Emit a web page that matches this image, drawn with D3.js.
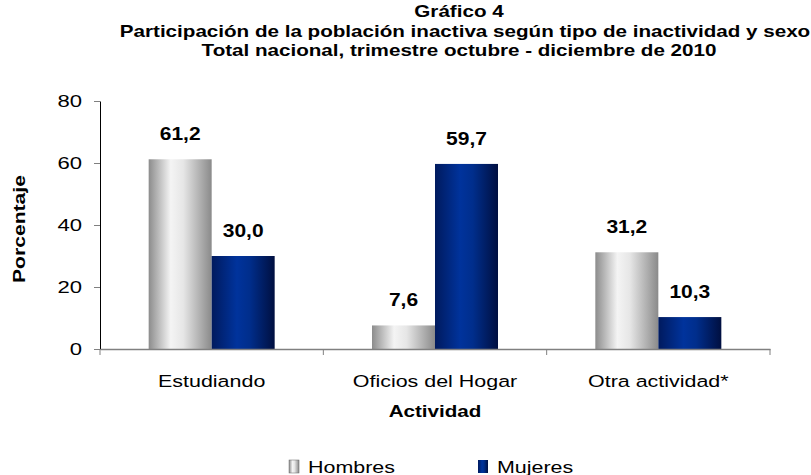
<!DOCTYPE html>
<html>
<head>
<meta charset="utf-8">
<script src="https://cdn.jsdelivr.net/npm/d3@7"></script>
<style>
  body { margin: 0; background: #fff; }
  text { font-family: 'Liberation Sans', Arial, sans-serif; }
</style>
</head>
<body>
<div id="chart"></div>
<script>
const categories = ['Estudiando', 'Oficios del Hogar', 'Otra actividad*'];
const series = ['Hombres', 'Mujeres'];
const hombres = [61.2, 7.6, 31.2];
const mujeres = [30.0, 59.7, 10.3];
const yTicks = [0, 20, 40, 60, 80];
const titleLines = [
  'Gráfico 4',
  'Participación de la población inactiva según tipo de inactividad y sexo',
  'Total nacional, trimestre octubre - diciembre de 2010'
];

const width = 811;
const height = 475;
const margin = { top: 101, right: 41, bottom: 126, left: 100 };
const innerW = width - margin.left - margin.right;
const innerH = height - margin.top - margin.bottom;
const SX = 1.3; // the original text is drawn wide

// move x/y into a transform so the glyphs can be widened
function stretch(sel, k) {
  sel.each(function () {
    const t = d3.select(this);
    const x = +t.attr('x') || 0;
    const y = +t.attr('y') || 0;
    const rot = t.attr('data-rot');
    t.attr('x', 0).attr('y', 0)
      .attr('transform', `translate(${x},${y})${rot ? ` rotate(${rot})` : ''} scale(${k || SX},1)`);
  });
}

const svg = d3.select('#chart').append('svg')
  .attr('width', width)
  .attr('height', height);

const defs = svg.append('defs');
const gradH = defs.append('linearGradient').attr('id', 'grad-h')
  .attr('x1', '0%').attr('x2', '100%').attr('y1', '0%').attr('y2', '0%');
[['0%', '#8c8c8c'], ['35%', '#f4f4f4'], ['55%', '#e6e6e6'], ['100%', '#8a8a8a']]
  .forEach(s => gradH.append('stop').attr('offset', s[0]).attr('stop-color', s[1]));
const gradM = defs.append('linearGradient').attr('id', 'grad-m')
  .attr('x1', '0%').attr('x2', '100%').attr('y1', '0%').attr('y2', '0%');
[['0%', '#001a5e'], ['40%', '#00339c'], ['60%', '#002e8c'], ['100%', '#000f40']]
  .forEach(s => gradM.append('stop').attr('offset', s[0]).attr('stop-color', s[1]));
const fills = ['url(#grad-h)', 'url(#grad-m)'];

// titles
svg.append('g').selectAll('text')
  .data(titleLines)
  .enter().append('text')
  .attr('x', (d, i) => i === 1 ? 465 : 459)
  .attr('y', (d, i) => 17 + i * 19.5)
  .attr('text-anchor', 'middle')
  .attr('font-size', 16.5)
  .attr('font-weight', 'bold')
  .text(d => d)
  .call(stretch, 1.25);

const g = svg.append('g')
  .attr('transform', `translate(${margin.left},${margin.top})`);

const x0 = d3.scaleBand().domain(categories).range([0, innerW]).padding(0);
const x1 = d3.scaleBand().domain(series).range([0, 126]);
const y = d3.scaleLinear().domain([0, 80]).range([innerH, 0]);

// y axis
const yAxis = g.append('g')
  .call(d3.axisLeft(y).tickValues(yTicks).tickSize(6).tickSizeOuter(0));
yAxis.select('.domain').attr('stroke', '#000');
yAxis.selectAll('.tick line').attr('stroke', '#808080');
yAxis.selectAll('.tick text')
  .attr('font-size', 17)
  .attr('font-family', "'Liberation Sans', Arial, sans-serif")
  .attr('fill', '#000')
  .attr('x', -18)
  .call(stretch);

// bars
const groups = g.selectAll('.grp')
  .data(categories)
  .enter().append('g')
  .attr('class', 'grp')
  .attr('transform', d => `translate(${x0(d) + x0.bandwidth() / 2 - 63},0)`);

const vals = [hombres, mujeres];
series.forEach((s, si) => {
  groups.append('rect')
    .attr('x', x1(s))
    .attr('width', x1.bandwidth())
    .attr('y', (d, i) => y(vals[si][i]))
    .attr('height', (d, i) => innerH - y(vals[si][i]))
    .attr('fill', fills[si]);
  groups.append('text')
    .attr('x', x1(s) + x1.bandwidth() / 2)
    .attr('y', (d, i) => y(vals[si][i]) - 19)
    .attr('text-anchor', 'middle')
    .attr('font-size', 17.5)
    .attr('font-weight', 'bold')
    .text((d, i) => vals[si][i].toFixed(1).replace('.', ','))
    .call(stretch, 1.2);
});

// x axis
const xAxis = g.append('g')
  .attr('transform', `translate(0,${innerH})`)
  .call(d3.axisBottom(x0).tickSize(0).tickSizeOuter(0));
xAxis.select('.domain').attr('stroke', '#808080').attr('stroke-width', 1.5);
xAxis.selectAll('.tick text')
  .attr('font-size', 16.5)
  .attr('font-family', "'Liberation Sans', Arial, sans-serif")
  .attr('fill', '#000')
  .attr('dy', 0)
  .attr('y', 38)
  .call(stretch);
g.append('g').selectAll('line')
  .data(categories.map((c, i) => i).concat([3]))
  .enter().append('line')
  .attr('x1', i => i * x0.bandwidth())
  .attr('x2', i => i * x0.bandwidth())
  .attr('y1', innerH)
  .attr('y2', innerH + 6)
  .attr('stroke', '#808080');

// axis titles
svg.append('text')
  .attr('x', margin.left + innerW / 2)
  .attr('y', 417)
  .attr('text-anchor', 'middle')
  .attr('font-size', 16.5)
  .attr('font-weight', 'bold')
  .text('Actividad')
  .call(stretch, 1.25);
svg.append('text')
  .attr('x', 25)
  .attr('y', margin.top + innerH / 2 + 4)
  .attr('data-rot', -90)
  .attr('text-anchor', 'middle')
  .attr('font-size', 16.5)
  .attr('font-weight', 'bold')
  .text('Porcentaje')
  .call(stretch, 1.28);

// legend: first label ends at 395, second swatch starts at 478
const legend = svg.append('g').attr('transform', 'translate(0,460)');
const items = legend.selectAll('g')
  .data(series)
  .enter().append('g');
items.append('text')
  .attr('x', (d, i) => i === 0 ? 395 : 497)
  .attr('y', 13)
  .attr('text-anchor', (d, i) => i === 0 ? 'end' : 'start')
  .attr('font-size', 16.5)
  .text(d => d)
  .call(stretch);
items.each(function (d, i) {
  const box = this.querySelector('text').getBBox();
  const wTxt = box.width * SX;
  const xs = i === 0 ? 395 - wTxt - 19 : 478;
  d3.select(this).insert('rect', 'text')
    .attr('x', xs).attr('y', 0)
    .attr('width', 10).attr('height', 13)
    .attr('fill', fills[i])
    .attr('stroke', i === 0 ? '#666' : 'none').attr('stroke-width', 0.5);
});
</script>
</body>
</html>
